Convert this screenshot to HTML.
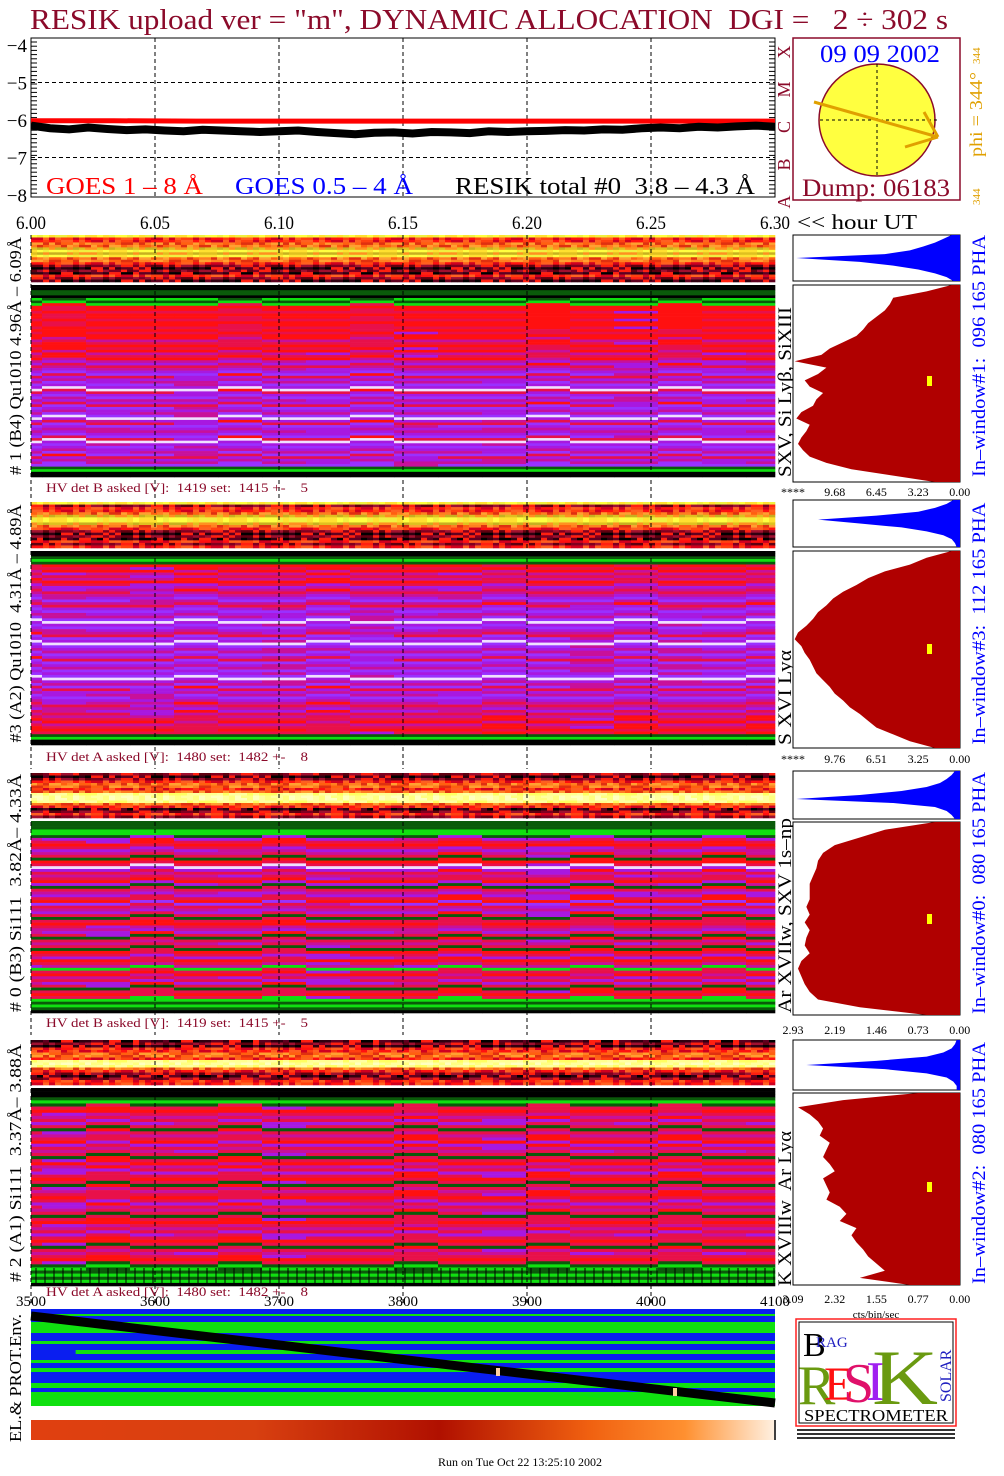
<!DOCTYPE html>
<html><head><meta charset="utf-8"><style>
html,body{margin:0;padding:0;background:#fff}
svg{display:block}
text{font-family:"Liberation Serif",serif;white-space:pre}
</style></head><body>
<svg id="s" width="1004" height="1476" viewBox="0 0 1004 1476" xmlns="http://www.w3.org/2000/svg"></svg>
<script>
// ---- data ----
const topXTicks=["6.00","6.05","6.10","6.15","6.20","6.25","6.30"];
const topYTicks=["-4","-5","-6","-7","-8"];
const resikTotal=[-6.15,-6.22,-6.25,-6.2,-6.24,-6.27,-6.25,-6.28,-6.3,-6.26,-6.28,-6.3,-6.32,-6.3,-6.28,-6.32,-6.35,-6.38,-6.34,-6.33,-6.36,-6.32,-6.33,-6.35,-6.3,-6.32,-6.3,-6.29,-6.27,-6.28,-6.25,-6.26,-6.22,-6.2,-6.22,-6.18,-6.2,-6.17,-6.15,-6.18];
const goesLong=[-6.02,-6.02,-6.03,-6.03,-6.03,-6.03,-6.03,-6.03,-6.03,-6.03];
const bottomXTicks=["3500","3600","3700","3800","3900","4000","4100"];
const histLabels1=["****","9.68","6.45","3.23","0.00"];
const histLabels2=["****","9.76","6.51","3.25","0.00"];
const histLabels3=["2.93","2.19","1.46","0.73","0.00"];
const histLabels4=["3.09","2.32","1.55","0.77","0.00"];
const bigHist1=[0.05,0.2,0.4,0.42,0.45,0.5,0.55,0.58,0.62,0.7,0.78,0.83,0.99,0.8,0.85,0.93,0.9,0.82,0.86,0.88,0.95,0.98,0.9,0.92,0.95,0.97,0.94,0.9,0.8,0.65,0.4,0.15];
const bigHist2=[0.05,0.2,0.3,0.45,0.55,0.62,0.7,0.76,0.8,0.85,0.88,0.92,0.97,0.99,0.95,0.93,0.9,0.88,0.86,0.82,0.78,0.75,0.7,0.66,0.6,0.55,0.5,0.4,0.3,0.15];
const bigHist3=[0.15,0.45,0.6,0.75,0.82,0.85,0.86,0.88,0.9,0.9,0.9,0.92,0.9,0.93,0.9,0.92,0.93,0.9,0.95,0.97,0.95,0.93,0.9,0.85,0.6,0.2];
const bigHist4=[0.25,0.7,0.97,0.9,0.85,0.82,0.84,0.78,0.8,0.82,0.78,0.75,0.82,0.8,0.78,0.8,0.72,0.68,0.72,0.62,0.65,0.62,0.58,0.55,0.5,0.45,0.6,0.3];
const smallHist1=[0.05,0.1,0.15,0.22,0.3,0.45,0.98,0.6,0.4,0.25,0.15,0.08,0.04];
const smallHist2=[0.04,0.08,0.15,0.25,0.5,0.85,0.6,0.35,0.2,0.1,0.05,0.03,0.02];
const smallHist3=[0.03,0.05,0.08,0.12,0.2,0.35,0.6,0.98,0.4,0.15,0.08,0.05,0.03];
const smallHist4=[0.02,0.03,0.05,0.1,0.2,0.5,0.92,0.45,0.2,0.08,0.04,0.02,0.02];
const mainRows1="kkggkGgGrrRrrRrrRrRrrmRrRrmRrmpRmpvRpmvpwRpvmpRvpmvwpRvpmpvRwpvpmvRpmvgGkk";
const mainRows2="kkgGgrRrmRmrRpmRmpvmRpvpmvwpvpmRvpwvpmvpRvpmvpvwpmvRpmvpmRmpRmRrmRrRgGkk";
const mainRows3="gggGGgpRrRpmRgrRwpRmRrpgRmpRrvRmpRgRrRmpRgRmRgrRprRmGRrmRpRgRrRGgGgk";
const mainRows4="kkkgGgRrRmRpRgRmRrpRmRgRrmRpRrRgRmRrRpRmRgRrRmRpRrRgRmRrRgGgGgGk";
const stripRows1="yrrooOyOyoordkdkrdk";
const stripRows2="ydrroOyyOordkdkrdr";
const stripRows3="dkdrooroYwwYorkdrd";
const stripRows4="kdkrroorYwYordkdrr";
const blockShift=[0,1,2,0,3,1,0,2,1,3,0,2,1,0,3,1,2];
const envGreenBands=[[1314,1316,0],[1322,1333,0],[1341,1344,0],[1350,1354,0.06],[1350,1354,0.37],[1360,1363,0],[1368,1372,0],[1383,1388,0],[1392,1406,0]];
</script>
<script>
const S=document.getElementById('s');
const NS="http://www.w3.org/2000/svg";
function mk(tag,attrs,parent){const e=document.createElementNS(NS,tag);for(const k in attrs)e.setAttribute(k,attrs[k]);(parent||S).appendChild(e);return e;}
function txt(str,attrs,parent){const e=mk('text',attrs,parent);e.textContent=str;return e;}
function fit(e,len){e.setAttribute('textLength',len);e.setAttribute('lengthAdjust','spacingAndGlyphs');return e;}
const DR="#8b0a2a";
let t=fit(txt('RESIK upload ver = "m", DYNAMIC ALLOCATION  DGI =   2 ÷ 302 s',{x:30,y:29,'font-size':29,fill:DR}),918);


const X0=31,X1=775,TY0=38,TY1=197;
const tx=v=>X0+(v-6.0)/0.30*(X1-X0);
const ty=v=>45+(-4-v)*37.5;
const tp=mk('g',{});

mk('rect',{x:X0,y:TY0,width:X1-X0,height:TY1-TY0,fill:'#fff',stroke:'#000','stroke-width':1},tp);
topXTicks.forEach((l,i)=>{const v=parseFloat(l);const x=tx(v);
 if(i>0&&i<topXTicks.length-1)mk('line',{x1:x,y1:TY0,x2:x,y2:TY1,stroke:'#000','stroke-dasharray':'4,3','stroke-width':1},tp);
 let e=fit(txt(l,{x:x,y:229,'font-size':19,'text-anchor':'middle',fill:'#000'},tp),30);
 });
fit(txt('<< hour UT',{x:797,y:229,'font-size':21,fill:'#000'},tp),120);
topYTicks.forEach(l=>{const v=parseFloat(l);const y=ty(v);
 if(v>-8&&v<-4)mk('line',{x1:X0,y1:y,x2:X1,y2:y,stroke:'#000','stroke-dasharray':'4,3'},tp);
 let e=txt(l.replace('-','−'),{x:27,y:y+7,'font-size':19,'text-anchor':'end',fill:'#000'},tp);
 });
for(let y=TY0+4;y<TY1;y+=4.2){mk('line',{x1:X0,y1:y,x2:X0+6,y2:y,stroke:'#000'},tp);mk('line',{x1:X1-6,y1:y,x2:X1,y2:y,stroke:'#000'},tp);}
let d='';goesLong.forEach((v,i)=>{d+=(i?'L':'M')+tx(i/(goesLong.length-1)*0.30+6.0)+','+ty(v);});
let gl=mk('path',{d:d,stroke:'#ff0000','stroke-width':5,fill:'none'},tp);

d='';resikTotal.forEach((v,i)=>{d+=(i?'L':'M')+tx(i/(resikTotal.length-1)*0.30+6.0)+','+ty(v);});
let rl=mk('path',{d:d,stroke:'#000','stroke-width':8,fill:'none'},tp);

fit(txt('GOES 1 – 8 Å',{x:46,y:194,'font-size':24,fill:'#ff0000'},tp),157);
fit(txt('GOES 0.5 – 4 Å',{x:235,y:194,'font-size':24,fill:'#0000ff'},tp),178);
fit(txt('RESIK total #0  3.8 – 4.3 Å',{x:455,y:194,'font-size':24,fill:'#000'},tp),300);
['A','B','C','M','X'].forEach((c,i)=>{const y=ty(-8+i);
 txt(c,{x:0,y:0,'font-size':18,fill:DR,transform:`translate(790,${y+7}) rotate(-90)`,'text-anchor':'middle'},tp);});
const sb=mk('g',{});
mk('rect',{x:793,y:38,width:167,height:162,fill:'#fff',stroke:DR,'stroke-width':1.5},sb);
fit(txt('09 09 2002',{x:820,y:62,'font-size':25,fill:'#0000ff'},sb),120);
mk('ellipse',{cx:877,cy:120,rx:58,ry:56,fill:'#ffff40',stroke:DR,'stroke-width':1.5},sb);
mk('line',{x1:877,y1:64,x2:877,y2:176,stroke:'#000','stroke-dasharray':'3,3'},sb);
mk('line',{x1:820,y1:120,x2:940,y2:120,stroke:'#000','stroke-dasharray':'3,3'},sb);
mk('path',{d:'M814,102 L938,137 M938,137 L924,112 M938,137 L905,147',stroke:'#e0a000','stroke-width':3,fill:'none'},sb);
fit(txt('Dump: 06183',{x:802,y:196,'font-size':25,fill:DR},sb),148);
fit(txt('phi = 344°',{x:0,y:0,'font-size':18,fill:'#e0a000',transform:'translate(982,157) rotate(-90)'},sb),85);
txt('344',{x:0,y:0,'font-size':11,fill:'#e0a000',transform:'translate(980,64) rotate(-90)'},sb);
txt('344',{x:0,y:0,'font-size':11,fill:'#e0a000',transform:'translate(980,205) rotate(-90)'},sb);

const COL={k:'#000000',g:'#0a5a0a',G:'#10e010',r:'#ff1010',R:'#e8104a',m:'#c8109a',p:'#a818e0',v:'#9a30ff',w:'#f0e0ff',
 y:'#ffff40',Y:'#ffff90',o:'#ff8020',O:'#c8b020',d:'#800020'};
const STRIPVAR={y:['#ffff40','#ffe030','#f0f040'],r:['#ff1010','#ff4010','#d00020','#ff6020'],o:['#ff8020','#ff6010','#ffa030','#e03010'],O:['#c8b020','#e0c020','#ff9020'],d:['#800020','#a01030','#600010','#ff2010'],k:['#000000','#600020','#ff2010','#300010'],Y:['#ffff90','#ffff60','#ffffa0'],w:['#ffffc0','#ffffa0','#ffff80']};
const SWAP=[{},{r:'R',R:'r'},{p:'m',m:'p'},{R:'p',v:'m'}];
const panels=[
 {strip:[235,282],main:[285,477],hv:492,hvT:'HV det B asked [V]:  1419 set:  1415 +-    5',hs:[235,281],hb:[285,482],ly:496,lab:histLabels1,big:bigHist1,small:smallHist1,rows:mainRows1,srows:stripRows1,left:'# 1 (B4) Qu1010 4.96Å – 6.09Å',inner:'SXV, Si Lyβ, SiXIII',right:'In–window#1:  096 165 PHA',bar:380,ilen:170},
 {strip:[502,548],main:[551,745],hv:761,hvT:'HV det A asked [V]:  1480 set:  1482 +-    8',hs:[500,547],hb:[551,748],ly:763,lab:histLabels2,big:bigHist2,small:smallHist2,rows:mainRows2,srows:stripRows2,left:'#3 (A2) Qu1010  4.31Å – 4.89Å',inner:'S XVI Lyα',right:'In–window#3:  112 165 PHA',bar:648,ilen:95},
 {strip:[773,818],main:[821,1013],hv:1027,hvT:'HV det B asked [V]:  1419 set:  1415 +-    5',hs:[771,819],hb:[822,1015],ly:1034,lab:histLabels3,big:bigHist3,small:smallHist3,rows:mainRows3,srows:stripRows3,left:'# 0 (B3) Si111  3.82Å– 4.33Å',inner:'Ar XVIIw, SXV 1s–np',right:'In–window#0:  080 165 PHA',bar:918,ilen:195},
 {strip:[1040,1085],main:[1088,1286],hv:1296,hvT:'HV det A asked [V]:  1480 set:  1482 +-    8',hs:[1040,1090],hb:[1093,1285],ly:1303,lab:histLabels4,big:bigHist4,small:smallHist4,rows:mainRows4,srows:stripRows4,left:'# 2 (A1) Si111  3.37Å– 3.88Å',inner:'K XVIIIw  Ar Lyα',right:'In–window#2:  080 165 PHA',bar:1186,ilen:155}
];
panels.forEach((P,pi)=>{
 const g=mk('g',{});
 
 
 const sg=mk('g',{},g);
 
 
 const sh=(P.strip[1]-P.strip[0])/P.srows.length;
 for(let r=0;r<P.srows.length;r++){const c=P.srows[r];const vars=STRIPVAR[c]||[COL[c]];
  for(let x=X0,ci=0;x<X1;x+=6,ci++){
   const col=vars[(ci*7+r*5+((ci*ci+r)%5)+pi)%vars.length];
   mk('rect',{x:x,y:P.strip[0]+r*sh,width:6.3,height:sh+0.3,fill:col},sg);}}
 const hm=mk('g',{},g);
 
 
 const n=P.rows.length;const rh=(P.main[1]-P.main[0])/n;
 const edges=[X0,42];for(let x=86;x<X1;x+=44)edges.push(x);edges.push(X1);
 for(let b=0;b<edges.length-1;b++){
  const sft=blockShift[(b+pi)%blockShift.length];const sw=SWAP[sft];
  for(let r=0;r<n;r++){
   let idx=r;
   if(r>4&&r<n-4){idx=r+((sft%2)?1:0)-(sft>2?1:0);idx=Math.max(5,Math.min(n-5,idx));}
   let c=P.rows[idx];if(r>4&&r<n-4&&((r+b)%3==0)&&sw[c])c=sw[c];
   mk('rect',{x:edges[b],y:P.main[0]+r*rh,width:edges[b+1]-edges[b]+0.3,height:rh+0.3,fill:COL[c]},hm);
  }
 }
 [155,279,403,527,651].forEach(x=>mk('line',{x1:x,y1:P.strip[0],x2:x,y2:P.hv+8,stroke:'#000','stroke-dasharray':'4,3'},g));
 mk('line',{x1:X0,y1:P.strip[0],x2:X0,y2:P.hv+8,stroke:'#000','stroke-dasharray':'4,3'},g);
 let hv=fit(txt(P.hvT,{x:46,y:P.hv,'font-size':13,fill:DR},g),262);
 
 fit(txt(P.left,{x:0,y:0,'font-size':17,fill:'#000','text-anchor':'middle',transform:`translate(21,${(P.strip[0]+P.main[1])/2}) rotate(-90)`},g),238);
 fit(txt(P.inner,{x:0,y:0,'font-size':19,fill:'#000','text-anchor':'middle',transform:`translate(791,${P.main[1]-P.ilen/2}) rotate(-90)`},g),P.ilen);
 fit(txt(P.right,{x:0,y:0,'font-size':19,fill:'#0000ff','text-anchor':'middle',transform:`translate(985,${(P.strip[0]+P.main[1])/2}) rotate(-90)`},g),242);
 const HX0=793,HX1=960,HW=HX1-HX0;
 const hs=mk('g',{},g);
 
 
 mk('rect',{x:HX0,y:P.hs[0],width:HW,height:P.hs[1]-P.hs[0],fill:'#fff',stroke:'#000'},hs);
 let pd=`M${HX1},${P.hs[0]}`;const sn=P.small.length;const sstep=(P.hs[1]-P.hs[0])/(sn-1);
 P.small.forEach((v,i)=>{pd+=`L${HX1-v*HW},${P.hs[0]+i*sstep}`;});pd+=`L${HX1},${P.hs[1]}Z`;
 mk('path',{d:pd,fill:'#0000ff'},hs);
 const hb=mk('g',{},g);
 
 
 mk('rect',{x:HX0,y:P.hb[0],width:HW,height:P.hb[1]-P.hb[0],fill:'#fff',stroke:'#000'},hb);
 const bn=P.big.length;const bstep=(P.hb[1]-P.hb[0])/(bn-1);
 pd=`M${HX1},${P.hb[0]}`;
 P.big.forEach((v,i)=>{const y=P.hb[0]+i*bstep;pd+=`L${HX1-v*HW},${y}`;});pd+=`L${HX1},${P.hb[1]}Z`;
 mk('path',{d:pd,fill:'#b00000'},hb);
 mk('rect',{x:927,y:P.bar-4,width:5,height:10,fill:'#ffff00'},hb);
 for(let i=0;i<5;i++){let e=txt(P.lab[i],{x:793+i*41.7,y:P.ly,'font-size':12,fill:'#000','text-anchor':'middle'},g);
  }
});
for(let x=36;x<X1;x+=9)mk('line',{x1:x,y1:1268,x2:x,y2:1286,stroke:'#000'});
bottomXTicks.forEach((l,i)=>{let e=txt(l,{x:X0+i*124,y:1306,'font-size':15,'text-anchor':'middle',fill:'#000'});
 });
txt('cts/bin/sec',{x:876,y:1318,'font-size':11,'text-anchor':'middle',fill:'#000','font-family':'Liberation Sans'});

const ev=mk('g',{});


mk('rect',{x:X0,y:1309,width:X1-X0,height:97,fill:'#0a1ef0'},ev);
envGreenBands.forEach(b=>{mk('rect',{x:X0+b[2]*(X1-X0),y:b[0],width:(1-b[2])*(X1-X0),height:b[1]-b[0],fill:'#10e010'},ev);});
mk('line',{x1:X0,y1:1316,x2:X1,y2:1403,stroke:'#000','stroke-width':9},ev);
mk('rect',{x:496,y:1368,width:4,height:8,fill:'#ffd0a0'},ev);
mk('rect',{x:673,y:1388,width:4,height:8,fill:'#ffd0a0'},ev);
fit(txt('EL.& PROT.Env.',{x:0,y:0,'font-size':17,fill:'#000','text-anchor':'middle',transform:'translate(21,1378) rotate(-90)'},ev),128);
const grad=mk('linearGradient',{id:'og'},mk('defs',{}));
[['0','#e04010'],['0.3','#d84010'],['0.55','#b01000'],['0.75','#f06010'],['0.88','#ff9030'],['1','#fff0e0']].forEach(s=>mk('stop',{offset:s[0],'stop-color':s[1]},grad));
let os=mk('rect',{x:X0,y:1420,width:743,height:20,fill:'url(#og)'});

mk('line',{x1:775,y1:1420,x2:775,y2:1440,stroke:'#000','stroke-width':1.5});

const lg=mk('g',{});


mk('rect',{x:796,y:1319,width:160,height:107,fill:'#fff',stroke:'#ff2020','stroke-width':1.5},lg);
mk('rect',{x:799,y:1322,width:154,height:101,fill:'none',stroke:'#000'},lg);
txt('B',{x:803,y:1356,'font-size':34,fill:'#000'},lg);
txt('RAG',{x:816,y:1347,'font-size':15,fill:'#2020c0'},lg);
txt('R',{x:798,y:1404,'font-size':56,fill:'#6a9a10'},lg);
txt('E',{x:824,y:1400,'font-size':48,fill:'#ff1010'},lg);
txt('S',{x:843,y:1402,'font-size':56,fill:'#e0106a'},lg);
txt('I',{x:866,y:1400,'font-size':56,fill:'#a020f0'},lg);
fit(txt('K',{x:872,y:1404,'font-size':78,fill:'#6a9a10'},lg),66);
txt('SOLAR',{x:0,y:0,'font-size':16,fill:'#2020c0',transform:'translate(951,1402) rotate(-90)'},lg);
fit(txt('SPECTROMETER',{x:804,y:1421,'font-size':17,fill:'#000'},lg),144);
for(let i=0;i<3;i++)mk('rect',{x:797,y:1429+i*4,width:158,height:2,fill:'#333'},lg);
let ft=txt('Run on Tue Oct 22 13:25:10 2002',{x:520,y:1466,'font-size':12,'text-anchor':'middle',fill:'#000'});

</script>
</body></html>
